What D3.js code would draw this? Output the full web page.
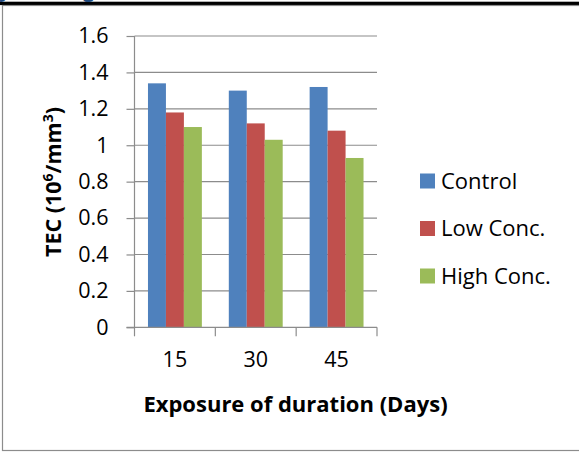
<!DOCTYPE html>
<html>
<head>
<meta charset="utf-8">
<script src="https://cdn.jsdelivr.net/npm/d3@7"></script>
<style>
	body { margin: 0; background: #fff; }
	svg { display: block; }
	text { font-family: 'Open Sans', sans-serif; fill: #000; }
</style>
</head>
<body>
<div id="chart"></div>
<script>
// data
var days = ['15', '30', '45'] ;
var seriesNames = ['Control', 'Low Conc.', 'High Conc.'] ;
var control = [1.34, 1.30, 1.32] ;
var lowConc = [1.18, 1.12, 1.08] ;
var highConc = [1.10, 1.03, 0.93] ;
var yTicks = [0, 0.2, 0.4, 0.6, 0.8, 1, 1.2, 1.4, 1.6] ;
var colors = ['#4F81BD', '#C0504D', '#9BBB59'] ;

( function() {
	var values = [control, lowConc, highConc] ;
	var width = 579, height = 452 ;
	var svg = d3.select('#chart').append('svg').attr('width', width).attr('height', height) ;

	// bits of the page above the chart
	svg.append('rect').attr('x', 0).attr('y', 1.7).attr('width', width).attr('height', 3.4).attr('fill', '#000') ;
	svg.append('text').attr('x', -1).attr('y', -3).style('font-size', '20px').style('font-weight', 'bold').style('fill', '#1F497D').text('y') ;
	svg.append('text').attr('x', 83).attr('y', -3).style('font-size', '20px').style('font-weight', 'bold').style('fill', '#1F497D').text('g') ;

	// chart frame
	svg.append('rect').attr('x', 2.5).attr('y', 5.5).attr('width', 620).attr('height', 445)
		.attr('fill', 'none').attr('stroke', '#8c8c8c').attr('stroke-width', 1.2) ;

	var pLeft = 134.5, pRight = 377, pTop = 36, pBottom = 327.3 ;
	var x0 = d3.scaleBand().domain(days).range([pLeft, pRight]) ;
	var gap = x0.bandwidth() / 4.5 * 0.75 ;
	var x1 = d3.scaleBand().domain(seriesNames).range([gap, x0.bandwidth() - gap]) ;
	var y = d3.scaleLinear().domain([0, 1.6]).range([pBottom, pTop]) ;

	// gridlines
	svg.append('g').selectAll('line').data(yTicks.slice(1)).join('line')
		.attr('x1', pLeft).attr('x2', pRight)
		.attr('y1', function(d) { return y(d) ; }).attr('y2', function(d) { return y(d) ; })
		.attr('stroke', '#8c8c8c').attr('stroke-width', 1.2) ;

	// bars
	var rows = [] ;
	days.forEach(function(d, i) {
		seriesNames.forEach(function(s, j) { rows.push({ day: d, s: s, v: values[j][i], c: colors[j] }) ; }) ;
	}) ;
	svg.append('g').selectAll('rect').data(rows).join('rect')
		.attr('x', function(d) { return x0(d.day) + x1(d.s) ; })
		.attr('width', x1.bandwidth())
		.attr('y', function(d) { return y(d.v) ; })
		.attr('height', function(d) { return y(0) - y(d.v) ; })
		.attr('fill', function(d) { return d.c ; }) ;

	// y axis
	var yAxis = svg.append('g').attr('transform', 'translate(' + pLeft + ',0)')
		.call(d3.axisLeft(y).tickValues(yTicks).tickSize(8).tickPadding(18).tickFormat(d3.format('~g'))) ;
	yAxis.selectAll('path, line').attr('stroke', '#8c8c8c').attr('stroke-width', 1.2) ;
	yAxis.select('.domain').attr('d', 'M0,' + pTop + 'V' + pBottom) ;
	yAxis.selectAll('text').style('font-size', '21.5px').attr('fill', '#000').style('font-family', "'Open Sans', sans-serif") ;

	// x axis: labels at band centres, tick marks at band edges
	var xAxis = svg.append('g').attr('transform', 'translate(0,' + pBottom + ')')
		.call(d3.axisBottom(x0).tickSize(0).tickPadding(24)) ;
	xAxis.select('.domain').attr('d', 'M' + (pLeft - 8) + ',0H' + pRight).attr('stroke', '#8c8c8c').attr('stroke-width', 1.2) ;
	xAxis.selectAll('text').style('font-size', '21.5px').attr('fill', '#000').style('font-family', "'Open Sans', sans-serif") ;
	var edges = days.map(function(d) { return x0(d) ; }).concat([x0.range()[1]]) ;
	xAxis.selectAll('line.edge').data(edges).join('line').attr('class', 'edge')
		.attr('x1', function(d) { return d ; }).attr('x2', function(d) { return d ; })
		.attr('y1', 0).attr('y2', 9).attr('stroke', '#8c8c8c').attr('stroke-width', 1.2) ;

	// axis titles
	svg.append('text').attr('x', 295.5).attr('y', 412)
		.attr('text-anchor', 'middle').style('font-size', '22px').style('font-weight', 'bold')
		.text('Exposure of duration (Days)') ;
	var yt = svg.append('text').attr('transform', 'translate(61,182) rotate(-90)')
		.attr('text-anchor', 'middle').style('font-size', '21.5px').style('font-weight', 'bold') ;
	yt.append('tspan').text('TEC (10') ;
	yt.append('tspan').attr('dy', -8).style('font-size', '14px').text('6') ;
	yt.append('tspan').attr('dy', 8).text('/mm') ;
	yt.append('tspan').attr('dy', -8).style('font-size', '14px').text('3') ;
	yt.append('tspan').attr('dy', 8).text(')') ;

	// legend
	var legend = svg.append('g').selectAll('g').data(seriesNames).join('g')
		.attr('transform', function(d, i) { return 'translate(420,' + (181 + i * 47.5) + ')' ; }) ;
	legend.append('rect').attr('x', 0).attr('y', -7.5).attr('width', 15).attr('height', 15)
		.attr('fill', function(d, i) { return colors[i] ; }) ;
	legend.append('text').attr('x', 21).attr('y', 0).attr('dy', '0.35em').style('font-size', '22px')
		.text(function(d) { return d ; }) ;
} ) () ;
</script>
</body>
</html>
